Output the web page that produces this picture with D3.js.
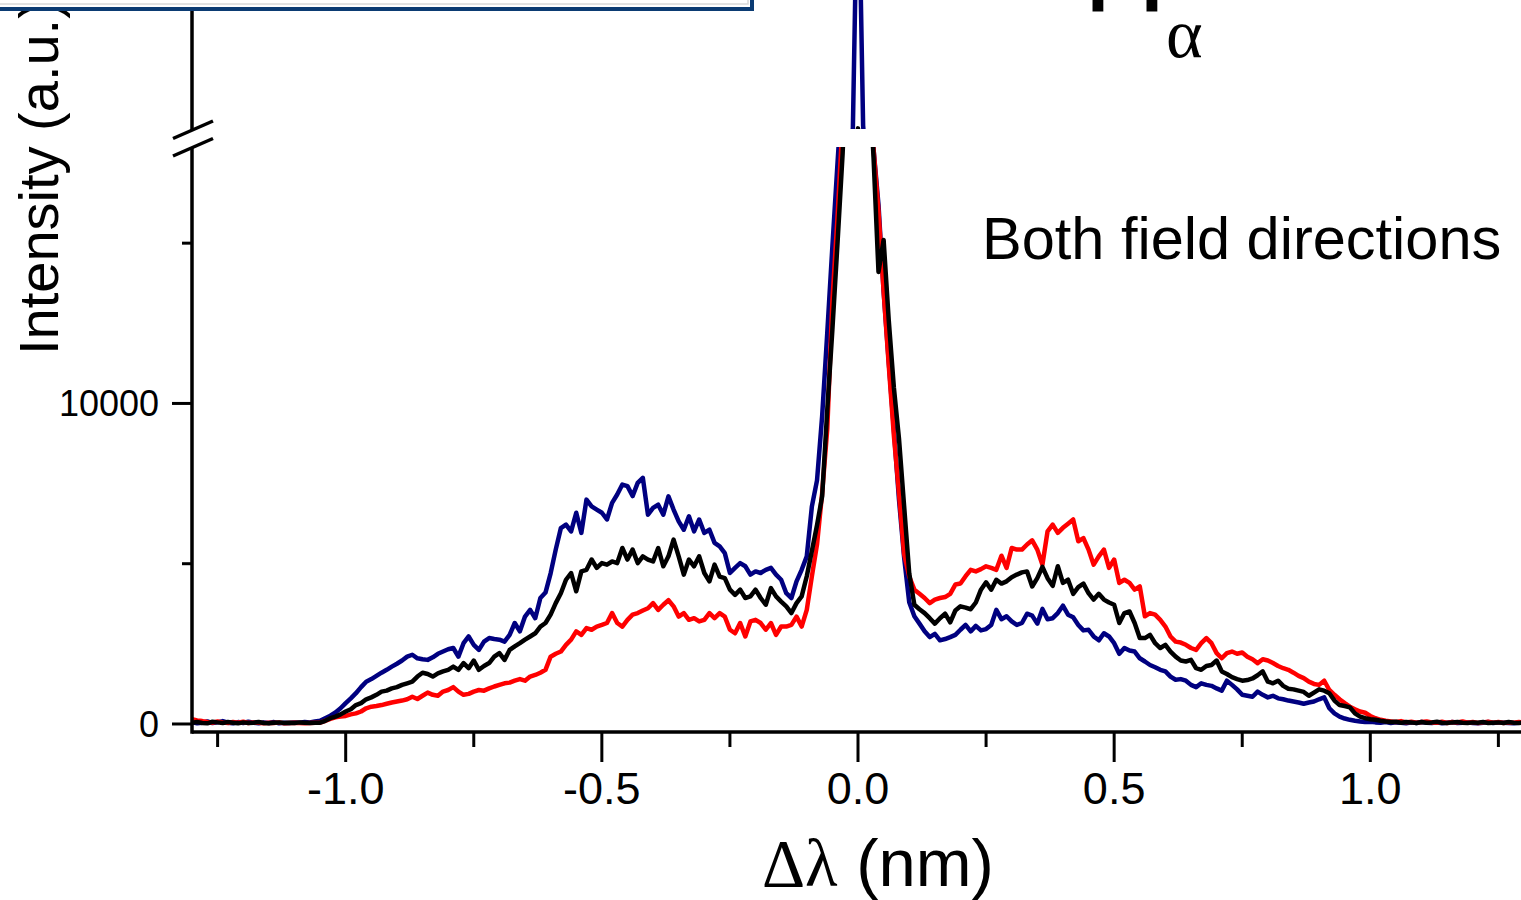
<!DOCTYPE html>
<meta charset="utf-8">
<script src="https://d3js.org/d3.v7.min.js"></script>
<style>
  body { margin: 0; background: #fff; }
  svg { display: block; }
</style>
<div id="my_dataviz"></div>
<script>

// wavelength offsets, -1.30 .. 1.30 nm, step 0.01
var lambda = d3.range(-130, 131).map(function(i) { return i / 100; });

// field direction 1 (blue)
var blueSeries = [
  60, 20, 40, 80, 30, 50, 90, 40, 20, 60, 30, 70, 40, 20, 50, 30, 60, 20, 40, 30, 50, 40, 60, 50, 80,
  100, 180, 260, 360, 490, 650, 800, 960, 1150, 1320,
  1400, 1500, 1600, 1690, 1790, 1880, 1980, 2100, 2160, 2050,
  2020, 2000, 2080, 2190, 2260, 2330, 2370, 2100, 2520, 2730,
  2470, 2310, 2570, 2680, 2650, 2630, 2570, 2780, 3150, 2890,
  3350, 3560, 3300, 3930, 4100, 4700, 5440, 6110, 6220, 6010,
  6590, 5960, 7000, 6790, 6690, 6590, 6380, 6900, 7160, 7470,
  7420, 7110, 7520, 7680, 6530, 6740, 6840, 6530, 7100, 6690,
  6320, 6060, 6480, 6010, 6380, 5960, 6060, 5650, 5540, 5330,
  4710, 4870, 5020, 4920, 4660, 4760, 4710, 4810, 4870, 4660,
  4500, 4080, 3930, 4450, 4810, 5230,
  6790, 7600, 9600, 12200, 14900, 17500, 20000, 26000, 40300, 107000,
  40800, 26000, 18000, 16200, 13500, 11300, 9200, 7000, 5200, 3800,
  3360, 3130, 2890, 2710, 2810, 2610, 2650, 2710, 2780, 2940,
  3090, 2890, 3060, 2920, 2960, 3090, 3560, 3270, 3360, 3200,
  3090, 3150, 3440, 3380, 3130, 3590, 3270, 3300, 3460, 3690,
  3410, 3330, 3090, 2920, 2940, 2730, 2610, 2830, 2730, 2520,
  2190, 2370, 2290, 2260, 2050, 1950, 1840, 1770, 1690, 1640,
  1480, 1380, 1400, 1350, 1220, 1150, 1270, 1220, 1190, 1110,
  1040, 1350, 1220, 1080, 910, 880, 850, 1010, 910, 830,
  880, 800, 770, 730, 700, 670, 630, 670, 700, 770,
  830, 490, 330, 230, 170, 130, 100, 80,
  60, 70, 50, 40, 60, 30, 50, 40, 20, 50, 30, 60, 40, 30, 50, 20,
  40, 60, 30, 40, 50, 30, 20, 40, 60, 30, 50, 40, 30, 20, 40, 50
];

// field direction 2 (red)
var redSeries = [
  150, 110, 90, 60, 40, 80, 50, 30, 60, 40, 70, 30, 50, 40, 20, 40, 30, 50, 20, 30, 40, 30, 20, 30, 40,
  40, 100, 160, 210, 230, 250, 300, 330, 390, 490,
  540, 560, 590, 630, 670, 700, 730, 770, 850, 780,
  880, 980, 910, 880, 1010, 1060, 1150, 1010, 910, 940,
  1010, 1060, 1040, 1110, 1170, 1220, 1270, 1290, 1350, 1400,
  1350, 1480, 1530, 1600, 1690, 2100, 2190, 2260, 2470, 2630,
  2890, 2780, 2990, 2940, 3040, 3090, 3150, 3460, 3150, 3040,
  3250, 3410, 3460, 3540, 3610, 3770, 3560, 3720, 3860, 3670,
  3350, 3460, 3250, 3300, 3200, 3250, 3460, 3300, 3460, 3350,
  2940, 2830, 3150, 2730, 3200, 3250, 3150, 2940, 3150, 2780,
  3040, 3040, 3090, 3350, 3040, 3560,
  4610, 5600, 7200, 9200, 13200, 15800, 18800, 23000, 31000, 36000,
  30000, 23000, 18000, 16000, 13500, 11200, 9000, 7200, 5300, 4600,
  4190, 4060, 3930, 3770, 3880, 3930, 3960, 4060, 4350, 4380,
  4610, 4810, 4760, 4830, 4920, 4870, 4810, 5250, 4870, 5490,
  5440, 5440, 5600, 5730, 5440, 4970, 6010, 6220, 5960, 6120,
  6250, 6380, 5700, 5800, 5440, 4970, 5230, 5440, 4870, 5130,
  4400, 4500, 4400, 4190, 4290, 3360, 3460, 3410, 3250, 3040,
  2730, 2570, 2540, 2470, 2370, 2310, 2520, 2680, 2520, 2210,
  2050, 2210, 2260, 2190, 2230, 2100, 2020, 1900, 2020, 1980,
  1900, 1810, 1740, 1690, 1600, 1500, 1430, 1320, 1250, 1220,
  1350, 1060, 910, 770, 650, 540, 460, 390, 350, 250, 180, 130,
  100, 80, 60, 90, 50, 70, 40, 60, 80, 50, 40, 70, 30, 60,
  50, 80, 40, 60, 30, 50, 70, 40, 60, 30, 50, 40, 60, 50
];

// both field directions (black)
var blackSeries = [
  40, 60, 30, 20, 70, 50, 30, 60, 40, 20, 50, 30, 40, 60, 30, 20, 40, 50, 30, 40, 30, 50, 40, 30, 40,
  40, 100, 180, 230, 300, 390, 460, 590, 650, 770,
  830, 910, 1010, 1040, 1110, 1150, 1220, 1270, 1320, 1480,
  1600, 1560, 1480, 1580, 1640, 1690, 1790, 1690, 1900, 1740,
  1980, 1690, 1810, 1900, 2100, 2210, 2000, 2310, 2420, 2520,
  2630, 2730, 2830, 3040, 3150, 3410, 3770, 4080, 4500, 4710,
  4140, 4760, 4810, 5130, 4870, 5020, 4970, 5070, 5020, 5490,
  5130, 5440, 5020, 5230, 5130, 5070, 5490, 4920, 5230, 5750,
  5230, 4660, 5130, 4920, 5230, 4710, 4450, 4970, 4600, 4550,
  4190, 4030, 4190, 3930, 3980, 4190, 3930, 3720, 4240, 3980,
  3820, 3670, 3460, 3770, 3980, 4610,
  5400, 6200, 7100, 9800, 12300, 15000, 17800, 22000, 32000, 40150,
  30000, 20500, 17800, 14100, 15100, 12600, 10500, 8900, 6800, 4700,
  3720, 3580, 3460, 3300, 3130, 3300, 3440, 3170, 3540, 3670,
  3630, 3580, 3790, 4190, 4420, 4190, 4500, 4380, 4450, 4580,
  4660, 4730, 4760, 4290, 4550, 4900, 4550, 4310, 4920, 4400,
  4500, 4060, 4270, 4380, 4080, 3880, 4060, 3880, 3790, 3720,
  3150, 3460, 3510, 3150, 2680, 2680, 2780, 2520, 2370, 2470,
  2260, 2100, 1980, 1950, 2000, 1740, 1690, 1810, 1840, 1980,
  1640, 1560, 1460, 1400, 1350, 1370, 1420, 1520, 1640, 1320,
  1270, 1350, 1190, 1100, 1080, 1040, 1000, 880, 980, 1080,
  1040, 960, 730, 590, 560, 520, 330, 230, 180, 150, 130, 100,
  80, 60, 70, 40, 60, 50, 30, 60, 40, 50, 70, 40, 30, 50,
  60, 40, 30, 50, 40, 60, 30, 40, 50, 30, 60, 40, 30, 50
];

var yMajorTicks = [0, 10000];
var yMinorTicks = [5000, 15000];
var xMajorTicks = [-1.0, -0.5, 0.0, 0.5, 1.0];
var xMinorTicks = [-1.25, -0.75, -0.25, 0.25, 0.75, 1.25];

var W = 1521, H = 900;
var sans = "Arial, 'Liberation Sans', sans-serif";
var serif = "'Times New Roman', 'Liberation Serif', serif";

var svg = d3.select("#my_dataviz")
  .append("svg")
    .attr("width", W)
    .attr("height", H);

// scales: one x, two y panels (broken axis)
var x = d3.scaleLinear().domain([-1.3, 1.3]).range([192, 1524]);
var yLow = d3.scaleLinear().domain([-250, 18000]).range([732, 147]);
var yHigh = d3.scaleLinear().domain([40000, 70000]).range([129, 0]);

var defs = svg.append("defs");
defs.append("clipPath").attr("id", "clipLow")
  .append("rect").attr("x", 192).attr("y", 147).attr("width", W - 192).attr("height", 585);
defs.append("clipPath").attr("id", "clipHigh")
  .append("rect").attr("x", 192).attr("y", -10).attr("width", W - 192).attr("height", 139);

var series = [
  {values: blueSeries, color: "#000080"},
  {values: redSeries, color: "#ff0000"},
  {values: blackSeries, color: "#000000"}
];

// Add lines, lower and upper panel
[{y: yLow, clip: "clipLow"}, {y: yHigh, clip: "clipHigh"}].forEach(function(p) {
  var line = d3.line()
    .x(function(d, i) { return x(lambda[i]); })
    .y(function(d) { return p.y(d); });
  var g = svg.append("g").attr("clip-path", "url(#" + p.clip + ")");
  series.forEach(function(s) {
    g.append("path")
      .datum(s.values)
      .attr("fill", "none")
      .attr("stroke", s.color)
      .attr("stroke-width", 4.5)
      .attr("stroke-linejoin", "round")
      .attr("stroke-linecap", "round")
      .attr("d", line);
  });
});

// Add X axis
svg.append("line")
  .attr("x1", 192).attr("x2", W)
  .attr("y1", 732).attr("y2", 732)
  .attr("stroke", "#000").attr("stroke-width", 3.5);
svg.selectAll("xmajor").data(xMajorTicks).enter().append("line")
  .attr("x1", function(d) { return x(d); }).attr("x2", function(d) { return x(d); })
  .attr("y1", 732).attr("y2", 762)
  .attr("stroke", "#000").attr("stroke-width", 3);
svg.selectAll("xminor").data(xMinorTicks).enter().append("line")
  .attr("x1", function(d) { return x(d); }).attr("x2", function(d) { return x(d); })
  .attr("y1", 732).attr("y2", 747)
  .attr("stroke", "#000").attr("stroke-width", 3);
svg.selectAll("xlabel").data(xMajorTicks).enter().append("text")
  .attr("x", function(d) { return x(d); })
  .attr("y", 804)
  .attr("text-anchor", "middle")
  .style("font-family", sans)
  .style("font-size", "45px")
  .text(function(d) { return d3.format(".1f")(d).replace("−", "-"); });

// Add Y axis (broken)
svg.append("line")
  .attr("x1", 192).attr("x2", 192).attr("y1", 147).attr("y2", 733.7)
  .attr("stroke", "#000").attr("stroke-width", 3.5);
svg.append("line")
  .attr("x1", 192).attr("x2", 192).attr("y1", 0).attr("y2", 130)
  .attr("stroke", "#000").attr("stroke-width", 3.5);
svg.append("line")
  .attr("x1", 173).attr("y1", 138.5).attr("x2", 213).attr("y2", 121)
  .attr("stroke", "#000").attr("stroke-width", 3.5);
svg.append("line")
  .attr("x1", 173).attr("y1", 156).attr("x2", 213).attr("y2", 138.5)
  .attr("stroke", "#000").attr("stroke-width", 3.5);

svg.selectAll("ymajor").data(yMajorTicks).enter().append("line")
  .attr("x1", 172).attr("x2", 192)
  .attr("y1", function(d) { return yLow(d); }).attr("y2", function(d) { return yLow(d); })
  .attr("stroke", "#000").attr("stroke-width", 3);
svg.selectAll("yminor").data(yMinorTicks).enter().append("line")
  .attr("x1", 182).attr("x2", 192)
  .attr("y1", function(d) { return yLow(d); }).attr("y2", function(d) { return yLow(d); })
  .attr("stroke", "#000").attr("stroke-width", 3);
svg.selectAll("ylabel").data(yMajorTicks).enter().append("text")
  .attr("x", 159)
  .attr("y", function(d) { return yLow(d); })
  .attr("dy", "0.36em")
  .attr("text-anchor", "end")
  .style("font-family", sans)
  .style("font-size", "36px")
  .text(function(d) { return d; });

// Add Y axis label
svg.append("text")
  .attr("transform", "translate(58,355) rotate(-90)")
  .style("font-family", sans)
  .style("font-size", "56px")
  .text("Intensity (a.u.)");

// Add X axis label
var xt = svg.append("text")
  .attr("x", 762)
  .attr("y", 886)
  .style("font-size", "67px");
xt.append("tspan").style("font-family", serif).text("\u0394\u03bb");
xt.append("tspan").style("font-family", sans).text(" (nm)");

// annotation
svg.append("text")
  .attr("x", 982)
  .attr("y", 259)
  .style("font-family", sans)
  .style("font-size", "59.5px")
  .text("Both field directions");

// H alpha (cut off at top)
svg.append("text")
  .attr("x", 1083)
  .attr("y", 11)
  .style("font-family", sans)
  .style("font-size", "116px")
  .text("H");
svg.append("text")
  .attr("x", 1166)
  .attr("y", 57)
  .style("font-family", serif)
  .style("font-size", "70px")
  .text("\u03b1");

// legend box (cut off at top)
svg.append("rect")
  .attr("x", -10).attr("y", -40)
  .attr("width", 762).attr("height", 49)
  .attr("fill", "#fff")
  .attr("stroke", "#0b3b73")
  .attr("stroke-width", 4);
svg.append("rect")
  .attr("x", -10).attr("y", -40)
  .attr("width", 758).attr("height", 44)
  .attr("fill", "none")
  .attr("stroke", "#d8d8d8")
  .attr("stroke-width", 1.5);

</script>
